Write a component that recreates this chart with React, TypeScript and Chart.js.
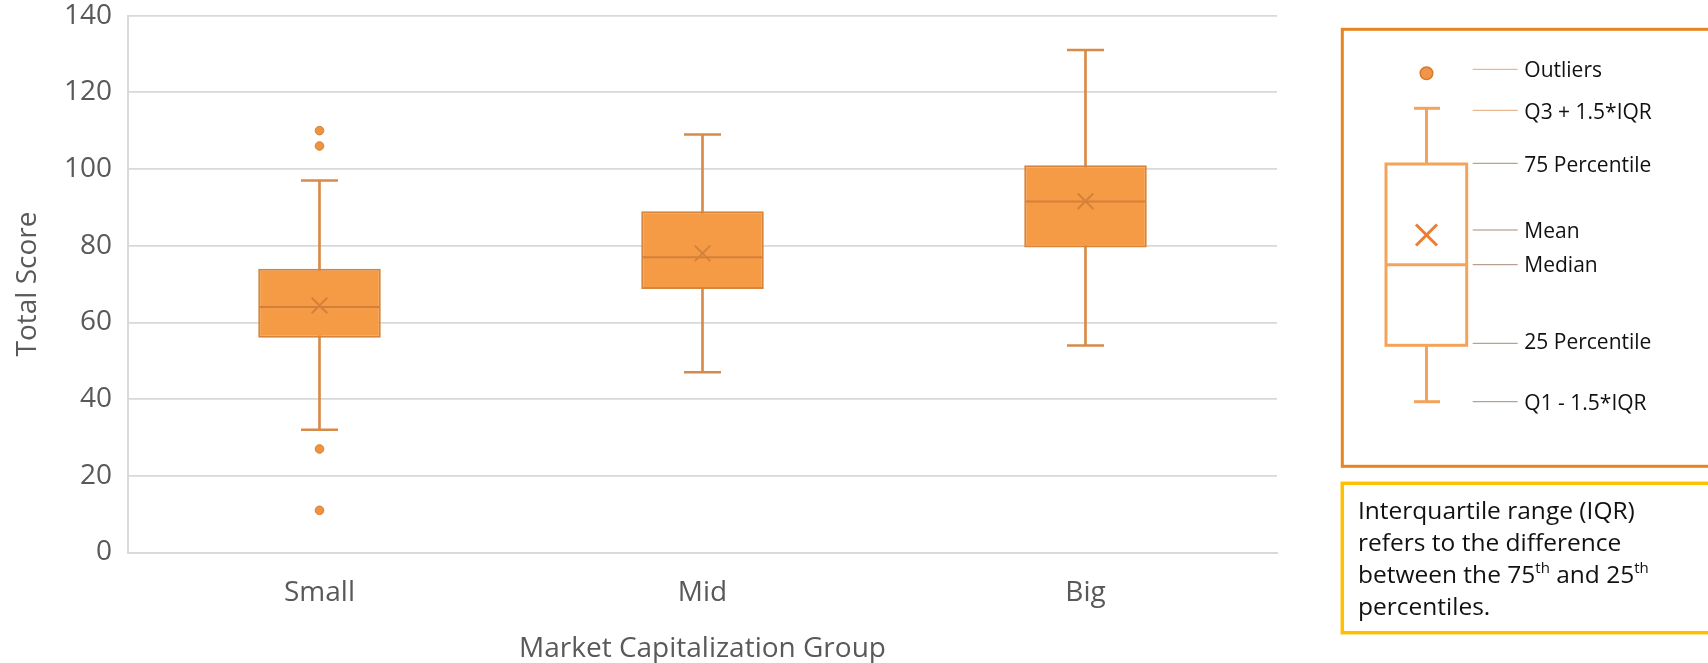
import React, { useEffect, useRef } from 'react';
import { Chart, registerables } from 'chart.js';

Chart.register(...registerables);

const categories = ['Small', 'Mid', 'Big'];
const q1Values = [56, 68.7, 79.5];
const q3Values = [74, 89, 101];
const medianValues = [64, 77, 91.5];
const meanValues = [64.4, 78, 91.6];
const whiskerLow = [32, 47, 54];
const whiskerHigh = [97, 109, 131];
const outlierGroups = ['Small', 'Small', 'Small', 'Small'];
const outlierValues = [110, 106, 27, 11];
const yTicks = [0, 20, 40, 60, 80, 100, 120, 140];

const legendLabels = ['Outliers', 'Q3 + 1.5*IQR', '75 Percentile', 'Mean', 'Median', '25 Percentile', 'Q1 - 1.5*IQR'];
const noteLines = ['Interquartile range (IQR)', 'refers to the difference', 'between the 75|th| and 25|th|', 'percentiles.'];

const FONT = "'Open Sans', sans-serif";

export default function App() {
  const canvasRef = useRef<HTMLCanvasElement | null>(null);

  useEffect(() => {
    const canvas = canvasRef.current;
    if (!canvas) return;
    const chart = new Chart(canvas, {
      type: 'bar',
      data: {
        labels: categories,
        datasets: [
          {
            type: 'line',
            label: 'Mean',
            data: meanValues,
            showLine: false,
            pointStyle: 'crossRot',
            pointRadius: 11,
            pointBorderColor: '#D3813C',
            pointBorderWidth: 2,
            pointBackgroundColor: 'rgba(0,0,0,0)',
            order: 0,
          },
          {
            type: 'line',
            label: 'Outliers',
            data: outlierGroups.map((c, i) => ({ x: c, y: outlierValues[i] })),
            showLine: false,
            pointStyle: 'circle',
            pointRadius: 4.3,
            pointBackgroundColor: '#F0933F',
            pointBorderColor: '#D67F30',
            pointBorderWidth: 1,
            order: 1,
          },
          {
            type: 'line',
            label: 'Median',
            data: medianValues,
            showLine: false,
            pointStyle: 'line',
            pointRadius: 60,
            pointBorderColor: '#D3803A',
            pointBorderWidth: 2,
            order: 2,
          },
          {
            type: 'line',
            label: 'Upper whisker',
            data: whiskerHigh,
            showLine: false,
            pointStyle: 'line',
            pointRadius: 18.5,
            pointBorderColor: '#D98A48',
            pointBorderWidth: 2.5,
            order: 3,
          },
          {
            type: 'line',
            label: 'Lower whisker',
            data: whiskerLow,
            showLine: false,
            pointStyle: 'line',
            pointRadius: 18.5,
            pointBorderColor: '#D98A48',
            pointBorderWidth: 2.5,
            order: 3,
          },
          {
            type: 'bar',
            label: 'Box',
            data: categories.map((_, i) => [q1Values[i], q3Values[i]]),
            backgroundColor: '#F59A45',
            borderColor: '#D7843C',
            borderWidth: 2,
            borderSkipped: false,
            grouped: false,
            barPercentage: 0.32,
            categoryPercentage: 1,
            order: 4,
          },
          {
            type: 'bar',
            label: 'Whisker',
            data: categories.map((_, i) => [whiskerLow[i], whiskerHigh[i]]),
            backgroundColor: '#D98A48',
            grouped: false,
            barPercentage: 1,
            categoryPercentage: 1,
            maxBarThickness: 2,
            order: 5,
          },
        ] as any,
      },
      options: {
        responsive: false,
        animation: false,
        events: [],
        layout: { autoPadding: false, padding: { top: 15.6, right: 23, bottom: 0, left: 0 } },
        plugins: {
          legend: { display: false },
          tooltip: { enabled: false },
          title: { display: false },
        },
        scales: {
          x: {
            type: 'category',
            offset: true,
            grid: { display: false },
            border: { display: true, color: '#D9D9D9', width: 2 },
            ticks: {
              color: '#595959',
              padding: 16,
              font: { family: FONT, size: 28, lineHeight: 1.2 },
            },
            title: {
              display: true,
              text: 'Market Capitalization Group',
              color: '#595959',
              font: { family: FONT, size: 28, lineHeight: 1.0 },
              padding: { top: 0, bottom: 0 },
            },
            afterFit: (scale: any) => {
              scale.height = 663 - 552.5;
              scale.paddingLeft = 0;
              scale.paddingRight = 0;
            },
          },
          y: {
            type: 'linear',
            min: 0,
            max: 140,
            grid: { color: '#D9D9D9', lineWidth: 1.8, drawTicks: false },
            border: { display: true, color: '#D9D9D9', width: 2 },
            afterBuildTicks: (scale: any) => {
              scale.ticks = yTicks.map((v) => ({ value: v }));
            },
            ticks: {
              color: '#595959',
              padding: 16,
              font: { family: FONT, size: 28, lineHeight: 1.0 },
            },
            title: {
              display: true,
              text: 'Total Score',
              color: '#595959',
              font: { family: FONT, size: 28, lineHeight: 1.0 },
              padding: { top: 14, bottom: 0 },
            },
            afterFit: (scale: any) => {
              scale.width = 128;
              scale.paddingTop = 0;
              scale.paddingBottom = 0;
            },
          },
        },
      } as any,
    });
    return () => chart.destroy();
  }, []);

  // legend panel geometry
  const cx = 1426.5;
  const lineYs = [69.3, 110.3, 163.3, 230, 264.7, 343.3, 401.7];
  const textBaselines = [77.3, 118.7, 171.7, 238.3, 272.3, 348.7, 410];
  const noteBaselines = [518.5, 550.5, 582.5, 614.5];

  const renderNote = (line: string, i: number) => {
    const parts = line.split('|');
    return (
      <text key={i} x={1358} y={noteBaselines[i]} fontFamily={FONT} fontSize={24.5} fill="#111">
        {parts.map((p, j) =>
          j % 2 === 1 ? (
            <tspan key={j} fontSize={15} dy={-10}>{p}</tspan>
          ) : (
            <tspan key={j} dy={j === 0 ? 0 : 10}>{p}</tspan>
          )
        )}
      </text>
    );
  };

  return (
    <div style={{ position: 'absolute', left: 0, top: 0, width: 1708, height: 663, background: '#fff', overflow: 'hidden' }}>
      <canvas ref={canvasRef} width={1300} height={663} style={{ position: 'absolute', left: 0, top: 0, width: 1300, height: 663 }} />
      <svg width={1708} height={663} style={{ position: 'absolute', left: 0, top: 0 }}>
        <rect x={1342.3} y={29.3} width={420} height={437} fill="none" stroke="#E8831F" strokeWidth={3} />
        <circle cx={cx} cy={73.3} r={6.3} fill="#F0954A" stroke="#D87A2A" strokeWidth={1.5} />
        <line x1={1414} x2={1440} y1={108.3} y2={108.3} stroke="#F4A35A" strokeWidth={3} />
        <line x1={cx} x2={cx} y1={108.3} y2={164} stroke="#F4A35A" strokeWidth={3} />
        <rect x={1386} y={164} width={80.7} height={181.3} fill="#fff" stroke="#F4A35A" strokeWidth={3} />
        <line x1={1386} x2={1466.7} y1={264.7} y2={264.7} stroke="#F4A35A" strokeWidth={3} />
        <line x1={cx} x2={cx} y1={345.3} y2={401.7} stroke="#F4A35A" strokeWidth={3} />
        <line x1={1414} x2={1440} y1={401.7} y2={401.7} stroke="#F4A35A" strokeWidth={3} />
        <line x1={cx - 10.5} x2={cx + 10.5} y1={235 - 10.5} y2={235 + 10.5} stroke="#ED7D31" strokeWidth={3} />
        <line x1={cx - 10.5} x2={cx + 10.5} y1={235 + 10.5} y2={235 - 10.5} stroke="#ED7D31" strokeWidth={3} />
        {legendLabels.map((lab, i) => (
          <g key={lab}>
            <line x1={1472.7} x2={1517.7} y1={lineYs[i]} y2={lineYs[i]} stroke={i < 2 ? '#E3A779' : '#A98B74'} strokeWidth={1} />
            <text x={1524.3} y={textBaselines[i]} fontFamily={FONT} fontSize={21} fill="#111">{lab}</text>
          </g>
        ))}
        <rect x={1342.3} y={483.3} width={420} height={149.4} fill="none" stroke="#FFC000" strokeWidth={3.5} />
        {noteLines.map(renderNote)}
      </svg>
    </div>
  );
}
